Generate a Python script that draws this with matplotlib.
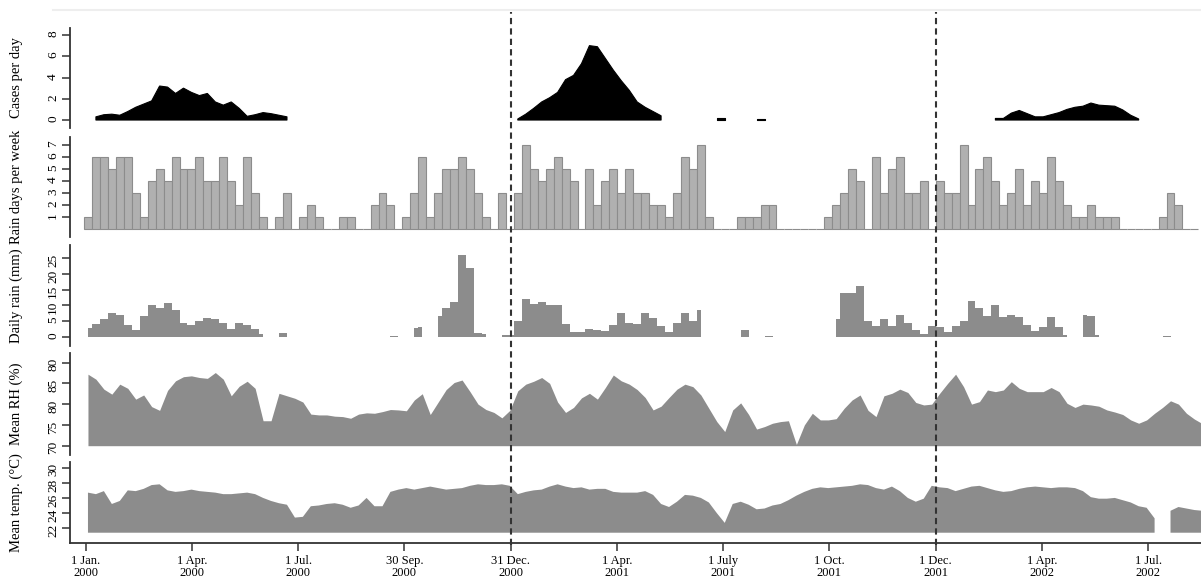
import numpy as np
import matplotlib
matplotlib.use('Agg')
import matplotlib.pyplot as plt
from matplotlib.lines import Line2D

nan = np.nan

# weekly values, week 0 = first week of Jan 2000
cases = [nan,
         0.3, 0.5, 0.55, 0.45, 0.8, 1.2, 1.5, 1.8, 3.2, 3.1, 2.5, 3.0, 2.6, 2.3, 2.5, 1.7, 1.4, 1.7, 1.1, 0.35,
         0.5, 0.7, 0.6, 0.45, 0.3] + [nan] * 28 + \
        [0.1, 0.55, 1.1, 1.7, 2.1, 2.6, 3.8, 4.2, 5.3, 7.0, 6.9, 5.8, 4.7, 3.7, 2.8, 1.7, 1.2, 0.8, 0.4] + \
        [nan] * 6 + [0.2, 0.2] + [nan] * 3 + [0.1, 0.1] + [nan] * 28 + \
        [0.15, 0.15, 0.65, 0.9, 0.6, 0.3, 0.3, 0.5, 0.7, 1.0, 1.2, 1.3, 1.6, 1.4, 1.35, 1.3, 0.95, 0.45, 0.1] + \
        [nan] * 8

rain_days = [1, 6, 6, 5, 6, 6, 3, 1, 4, 5, 4, 6, 5, 5, 6, 4, 4, 6, 4, 2, 6, 3, 1,
             0, 1, 3, 0, 1, 2, 1, 0, 0, 1, 1, 0, 0, 2, 3, 2, 0,
             1, 3, 6, 1, 3, 5, 5, 6, 5, 3, 1, 0, 3, 0,
             3, 7, 5, 4, 5, 6, 5, 4, 0, 5, 2, 4, 5, 3, 5, 3, 3, 2, 2, 1, 3,
             6, 5, 7, 1, 0, 0, 0, 1, 1, 1, 2, 2, 0, 0, 0, 0, 0, 0,
             1, 2, 3, 5, 4, 0, 6, 3, 5, 6, 3, 3, 4, 0,
             4, 3, 3, 7, 2, 5, 6, 4, 2, 3, 5, 2, 4, 3, 6, 4, 2, 1, 1, 2, 1, 1, 1,
             0, 0, 0, 0, 0, 1, 3, 2, 0, 0]

daily_rain = [2.8, 4.0, 5.5, 7.5, 7.0, 3.6, 2.2, 6.5, 10.0, 9.0, 10.6, 8.5, 4.5, 3.6, 4.9, 5.8, 5.6, 4.5,
              2.5, 4.5, 3.7, 2.5, 0.8, nan, 1.3, 1.3] + [nan] * 12 + [0.3, 0.3, nan, 2.7, 3.0, nan,
              6.5, 9.0, 11.0, 26.0, 22.0, 1.2, 0.8, nan, 0.4, 0.5,
              5.0, 12.0, 10.5, 11.0, 10.0, 10.0, 4.0, 1.5, 1.5, 2.5, 2.2, 1.8, 3.7, 7.5, 4.5, 4.0, 7.5, 6.0,
              3.5, 1.5, 4.5, 7.5, 5.0, 8.5] + [nan] * 4 + [2.0, 2.0, nan, 0.3, 0.3] + [nan] * 7 + \
             [5.5, 14.0, 14.0, 16.0, 5.0, 3.5, 5.5, 3.5, 7.0, 4.2, 2.0, 0.8, 3.4, 3.0, 1.5, 3.5, 5.0, 11.5,
              9.0, 6.5, 10.0, 6.4, 6.8, 6.4, 3.7, 1.7, 3.0, 6.2, 3.0, 0.5, nan, 6.8, 6.6, 0.5] + \
             [nan] * 7 + [0.3, 0.3] + [nan] * 4

mean_rh = [87.2, 86.0, 83.6, 82.4, 84.8, 83.8, 81.2, 82.2, 79.4, 78.5,
           83.3, 85.6, 86.6, 86.8, 86.4, 86.2, 87.6, 86.0, 82.0, 84.3,
           85.5, 83.8, 76.0, 76.0, 82.6, 82.0, 81.4, 80.5, 77.6, 77.4,
           77.4, 77.1, 77.0, 76.6, 77.6, 77.9, 77.8, 78.2, 78.7, 78.6,
           78.4, 81.0, 82.5, 77.5, 80.5, 83.5, 85.2, 85.8, 83.0, 80.0,
           78.7, 78.0, 76.7, 78.5, 83.2, 84.8, 85.5, 86.4, 85.0, 80.5,
           78.0, 79.2, 81.5, 82.6, 81.2, 84.0, 87.0, 85.6, 84.8, 83.5,
           81.6, 78.6, 79.5, 81.6, 83.6, 84.8, 84.2, 82.2, 79.0, 75.8,
           73.4, 78.6, 80.3, 77.5, 74.0, 74.6, 75.4, 75.8, 76.0, 70.3,
           75.0, 77.8, 76.2, 76.2, 76.5, 79.0, 81.0, 82.2, 78.5, 77.0,
           82.0, 82.6, 83.6, 82.8, 80.4, 79.8, 80.0, 82.6, 85.0, 87.2,
           84.2, 80.0, 80.6, 83.4, 83.0, 83.4, 85.4, 83.8, 83.0, 83.0,
           83.0, 84.0, 83.0, 80.2, 79.2, 80.0, 79.8, 79.5, 78.6, 78.1,
           77.5, 76.2, 75.4, 76.2, 77.8, 79.2, 80.8, 80.0, 77.8, 76.4,
           75.3]

mean_temp = [26.7, 26.5, 26.9, 25.2, 25.6, 27.0, 26.9, 27.2, 27.7, 27.8,
             27.0, 26.8, 26.9, 27.1, 26.9, 26.8, 26.7, 26.5, 26.5, 26.6,
             26.7, 26.5, 26.0, 25.6, 25.3, 25.1, 23.4, 23.5, 24.9, 25.0,
             25.2, 25.3, 25.1, 24.7, 25.0, 26.0, 24.9, 24.9, 26.8, 27.1,
             27.3, 27.1, 27.3, 27.5, 27.3, 27.1, 27.2, 27.3, 27.6, 27.8,
             27.7, 27.7, 27.8, 27.6, 26.5, 26.8, 27.0, 27.1, 27.5, 27.8,
             27.5, 27.3, 27.4, 27.1, 27.2, 27.2, 26.8, 26.7, 26.7, 26.7,
             26.9, 26.4, 25.2, 24.8, 25.5, 26.4, 26.3, 26.0, 25.4, 24.0,
             22.7, 25.2, 25.5, 25.1, 24.5, 24.6, 25.0, 25.2, 25.7, 26.3,
             26.8, 27.2, 27.4, 27.3, 27.4, 27.5, 27.6, 27.8, 27.7, 27.3,
             27.1, 27.5, 26.9, 26.0, 25.5, 25.9, 27.6, 27.4, 27.3, 26.9,
             27.2, 27.5, 27.6, 27.3, 27.0, 26.8, 26.9, 27.2, 27.4, 27.5,
             27.4, 27.3, 27.4, 27.4, 27.3, 26.9, 26.1, 25.9, 25.9, 26.0,
             25.7, 25.4, 24.9, 24.7, 23.3, nan, 24.3, 24.8, 24.6, 24.4,
             24.3]

tick_labels = ['1 Jan.\n2000', '1 Apr.\n2000', '1 Jul.\n2000', '30 Sep.\n2000', '31 Dec.\n2000',
               '1 Apr.\n2001', '1 July\n2001', '1 Oct.\n2001', '1 Dec.\n2001', '1 Apr.\n2002',
               '1 Jul.\n2002']
tick_pos = 0.2 + 13.35 * np.arange(len(tick_labels))
dashed_at = [tick_pos[4], tick_pos[8]]

plt.rcParams['font.family'] = ['Liberation Serif', 'DejaVu Serif']

W, H = 1201, 581
fig = plt.figure(figsize=(W / 100, H / 100), dpi=100)

# panel extents in pixels (top, bottom)
panels = [(28, 128), (137, 237), (245, 346), (353, 455), (462, 543)]
x0 = 69.5
xlim = (-1.82, 140.33)
spine_col = '#333333'

axes = []
for top, bot in panels:
    ax = fig.add_axes([x0 / W, (H - bot) / H, 1 - x0 / W, (bot - top) / H])
    ax.set_xlim(*xlim)
    for s in ['top', 'right', 'bottom']:
        ax.spines[s].set_visible(False)
    ax.spines['left'].set_color(spine_col)
    ax.spines['left'].set_linewidth(1.3)
    ax.tick_params(axis='y', length=5.5, width=1.1, color=spine_col, labelsize=9.5,
                   labelrotation=90, pad=2)
    ax.set_xticks([])
    ax.patch.set_alpha(0)
    axes.append(ax)

wk = np.arange(len(mean_rh)) + 0.5

# cases per day
ax = axes[0]
ax.fill_between(wk, 0, np.array(cases), color='black', lw=0.8, edgecolor='black')
ax.set_ylim(-0.75, 8.66)
ax.set_yticks([0, 2, 4, 6, 8])
ax.set_ylabel('Cases per day', fontsize=10.5)

# rain days per week
ax = axes[1]
weeks = np.arange(len(rain_days))
ax.bar(weeks, rain_days, width=1, align='edge', color='#b0b0b0', edgecolor='#8c8c8c', linewidth=0.8)
ax.set_ylim(-0.7, 7.67)
ax.set_yticks([1, 2, 3, 4, 5, 6, 7])
ax.set_ylabel('Rain days per week', fontsize=10.5)

# daily rain
ax = axes[2]
ax.fill_between(wk, 0, np.array(daily_rain), step='mid', color='#8c8c8c', lw=0)
ax.set_ylim(-2.98, 29.2)
ax.set_yticks([0, 5, 10, 15, 20, 25])
ax.set_ylabel('Daily rain (mm)', fontsize=10.5)

# mean RH
ax = axes[3]
ax.fill_between(wk, 70, np.array(mean_rh), color='#8c8c8c', lw=0)
ax.set_ylim(67.76, 92.3)
ax.set_yticks([70, 75, 80, 85, 90])
ax.set_yticklabels(['70', '75', '80', '85', '80'])
ax.set_ylabel('Mean RH (%)', fontsize=10.5)

# mean temperature
ax = axes[4]
ax.fill_between(wk, 21.4, np.array(mean_temp), color='#8c8c8c', lw=0)
ax.set_ylim(20.04, 30.75)
ax.set_yticks([22, 24, 26, 28, 30])
ax.set_ylabel('Mean temp. (°C)', fontsize=10.5)
ax.spines['bottom'].set_visible(True)
ax.spines['bottom'].set_color(spine_col)
ax.spines['bottom'].set_linewidth(1.3)
ax.set_xticks(tick_pos)
ax.set_xticklabels(tick_labels, fontsize=9, linespacing=1.05)
ax.tick_params(axis='x', length=6, width=1.1, color=spine_col, pad=2.5)

for ax in axes:
    ax.yaxis.set_label_coords(-0.041, 0.5)

# dashed season separators across all panels
over = fig.add_axes([x0 / W, (H - 545) / H, 1 - x0 / W, (545 - 12) / H])
over.set_xlim(*xlim)
over.set_ylim(0, 1)
over.axis('off')
for xd in dashed_at:
    over.axvline(xd, color='#333333', lw=1.5, linestyle=(0, (3, 2)))

# faint frame line at the top
fig.add_artist(Line2D([53 / W, 1], [(H - 10) / H] * 2, color='#eeeeee', lw=1.5))

fig.savefig('out.png', dpi=100)
